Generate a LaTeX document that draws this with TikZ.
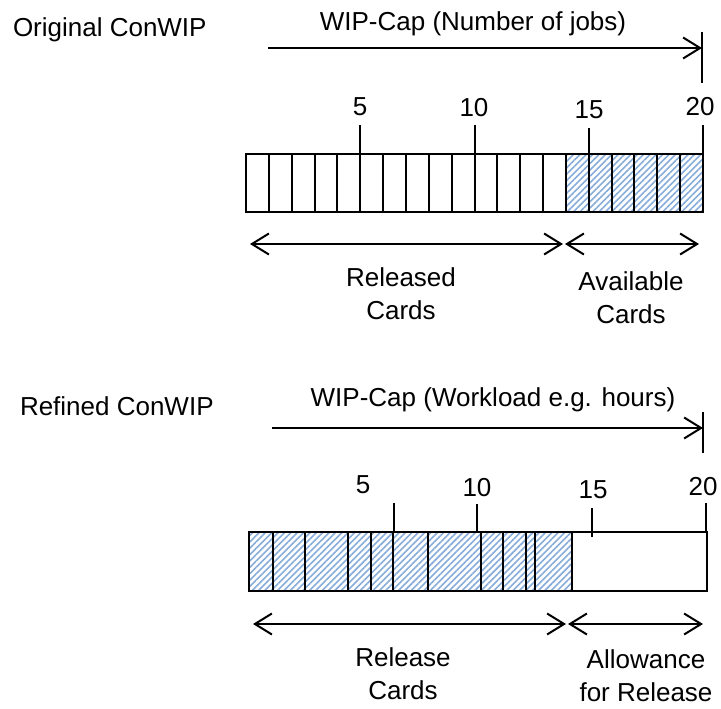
\documentclass[tikz,border=0pt]{standalone}
\usepackage{fontspec}
\setmainfont{Liberation Sans}
\usetikzlibrary{arrows.meta,patterns.meta}
\definecolor{hatchblue}{RGB}{135,172,218}
\begin{document}
\begin{tikzpicture}[x=1pt,y=-1pt,line width=2pt,
  lbl/.style={font=\fontsize{26}{33}\selectfont,inner sep=0pt,align=center},
  cell/.style={draw,line width=2pt},
  hcell/.style={cell,pattern={Lines[angle=45,distance=4.5pt,line width=1.6pt]},pattern color=hatchblue},
  tick/.style={line width=2pt},
  capline/.style={-{Straight Barb[length=17pt,width=21pt,line width=2pt]}},
  span/.style={{Straight Barb[length=17pt,width=21pt,line width=2pt]}-{Straight Barb[length=17pt,width=21pt,line width=2pt]}}]
\useasboundingbox (0,0) rectangle (721,709);

% ---------- Original ConWIP ----------
\node[lbl,anchor=base west] (orig) at (12,37) {Original ConWIP};
\node[lbl,anchor=base] (capA) at (473,31) {WIP-Cap (Number of jobs)};
\coordinate (aS) at (268,48);
\coordinate (aE) at (702,48);
\coordinate (aBt) at (702,32);
\coordinate (aBb) at (702,83);
\draw[capline] (aS) -- (aE);
\draw (aBt) -- (aBb);

% cells
\foreach \i in {0,...,13}{
  \draw[cell] ({246+\i*22.85},154) rectangle ({246+(\i+1)*22.85},212);
}
\foreach \i in {14,...,19}{
  \draw[hcell] ({246+\i*22.85},154) rectangle ({246+(\i+1)*22.85},212);
}
% ticks and numbers
\node[lbl] (n5a) at (360,107) {5};
\node[lbl] (n10a) at (474,108) {10};
\node[lbl] (n15a) at (589,110) {15};
\node[lbl] (n20a) at (700,107) {20};
\draw[tick] (360.3,125) -- (360.3,154);
\draw[tick] (474.5,125) -- (474.5,154);
\draw[tick] (588.8,128) -- (588.8,154);
\draw[tick] (703,125) -- (703,154);

\coordinate (rL) at (250,244);
\coordinate (rM) at (563,244);
\coordinate (vL) at (565,244);
\coordinate (vR) at (699,244);
\draw[span] (rL) -- (rM);
\draw[span] (vL) -- (vR);
\node[lbl] (rel) at (401,294) {Released\\Cards};
\node[lbl] (avail) at (631,298) {Available\\Cards};

% ---------- Refined ConWIP ----------
\node[lbl,anchor=base west] (ref) at (19,415) {Refined ConWIP};
\node[lbl,anchor=base] (capB) at (493,406) {WIP-Cap (Workload e.g. hours)};
\coordinate (bS) at (272,428);
\coordinate (bE) at (703,428);
\coordinate (bBt) at (703,412);
\coordinate (bBb) at (703,453);
\draw[capline] (bS) -- (bE);
\draw (bBt) -- (bBb);

\foreach \a/\b in {249.3/272.7,272.7/305,305/348.3,348.3/371,371/393.3,393.3/428.3,428.3/480.7,480.7/503.3,503.3/526,526/535.3,535.3/571.7}{
  \draw[hcell] (\a,532) rectangle (\b,591);
}
\draw[cell] (571.7,532) rectangle (707,591);

\node[lbl] (n5b) at (363,485) {5};
\node[lbl] (n10b) at (477,488) {10};
\node[lbl] (n15b) at (593,490) {15};
\node[lbl] (n20b) at (703,487) {20};
\draw[tick] (394,503) -- (394,532);
\draw[tick] (477,504) -- (477,532);
\draw[tick] (592,508) -- (592,537);
\draw[tick] (706,503) -- (706,532);

\coordinate (sL) at (253,624);
\coordinate (sM) at (566,624);
\coordinate (wL) at (568,624);
\coordinate (wR) at (703,624);
\draw[span] (sL) -- (sM);
\draw[span] (wL) -- (wR);
\node[lbl] (relc) at (403,674) {Release\\Cards};
\node[lbl] (allow) at (646,676) {Allowance\\for Release};
\end{tikzpicture}
\end{document}
